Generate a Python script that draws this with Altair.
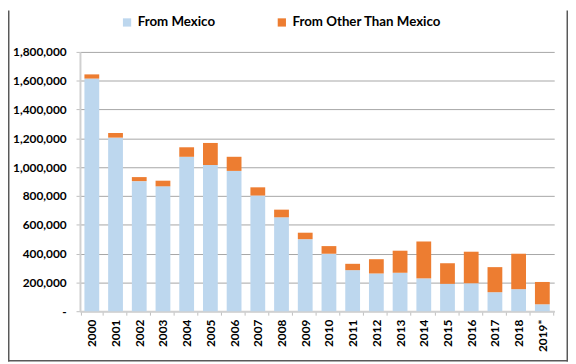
import altair as alt
import pandas as pd

years = ["2000", "2001", "2002", "2003", "2004", "2005", "2006", "2007", "2008", "2009",
         "2010", "2011", "2012", "2013", "2014", "2015", "2016", "2017", "2018", "2019*"]
from_mexico = [1615000, 1205000, 903000, 867000, 1072000, 1015000, 974000, 803000, 652000, 500000,
               399000, 285000, 262000, 267000, 228000, 190000, 194000, 132000, 153000, 48000]
from_other = [29000, 32000, 28000, 39000, 66000, 153000, 98000, 57000, 53000, 45000,
              53000, 44000, 99000, 153000, 256000, 143000, 219000, 174000, 246000, 155000]
series = ["From Mexico", "From Other Than Mexico"]
colors = ["#BDD7EE", "#ED7D31"]

rows = []
for y, m, o in zip(years, from_mexico, from_other):
    rows.append({"year": y, "series": series[0], "value": m, "ord": 0})
    rows.append({"year": y, "series": series[1], "value": o, "ord": 1})
df = pd.DataFrame(rows)

FONT = "Lato"
W, H = 481, 263
PL, PT, PR, PB = 73, 42, 14, 51

bars = alt.Chart(df).mark_bar(size=15).encode(
    x=alt.X("year:N", sort=years, title=None,
            axis=alt.Axis(labelAngle=-90, labelFont=FONT, labelFontWeight="bold",
                          labelFontSize=12, labelColor="#000000", tickBand="extent",
                          tickSize=4, tickColor="#bfbfbf", domainColor="#d0d0d0",
                          domainWidth=2, labelPadding=4)),
    y=alt.Y("value:Q", stack="zero", title=None,
            scale=alt.Scale(domain=[0, 1800000], nice=False),
            axis=alt.Axis(values=list(range(0, 1800001, 200000)),
                          labelExpr="datum.value == 0 ? '-\u00a0\u00a0\u00a0' : format(datum.value, ',')",
                          labelFont=FONT, labelFontWeight="bold", labelFontSize=12,
                          labelColor="#000000", tickSize=4, tickColor="#bfbfbf",
                          domainColor="#d0d0d0", domainWidth=2, labelPadding=10,
                          gridColor="#a6a6a6", gridWidth=1)),
    color=alt.Color("series:N", scale=alt.Scale(domain=series, range=colors),
                    legend=alt.Legend(title=None, orient="none", direction="horizontal",
                                      legendX=41, legendY=-37, symbolType="square",
                                      symbolSize=70, symbolStrokeWidth=0,
                                      labelFont=FONT, labelFontWeight="bold",
                                      labelFontSize=13.5, labelColor="#000000",
                                      labelOffset=4, columnPadding=60)),
    order=alt.Order("ord:Q", sort="ascending"),
)

frame_df = pd.DataFrame({"k": [0]})
frame_style = dict(color="#595959", strokeWidth=1.5)
right_edge = alt.Chart(frame_df).mark_rule(**frame_style).encode(
    x=alt.value(W + PR - 0.75), y=alt.value(-PT), y2=alt.value(H + PB))
bottom_edge = alt.Chart(frame_df).mark_rule(**frame_style).encode(
    x=alt.value(-PL), x2=alt.value(W + PR), y=alt.value(H + PB - 0.75))
left_edge = alt.Chart(frame_df).mark_rule(**frame_style).encode(
    x=alt.value(-PL + 0.75), y=alt.value(-PT), y2=alt.value(H + PB))

chart = alt.layer(bars, right_edge, bottom_edge, left_edge).properties(
    width=W, height=H,
    autosize=alt.AutoSizeParams(type="none"),
    padding={"left": PL, "top": PT, "right": PR, "bottom": PB},
).configure_view(stroke=None)

chart.save("out.html", embed_options={"renderer": "svg", "actions": False})
